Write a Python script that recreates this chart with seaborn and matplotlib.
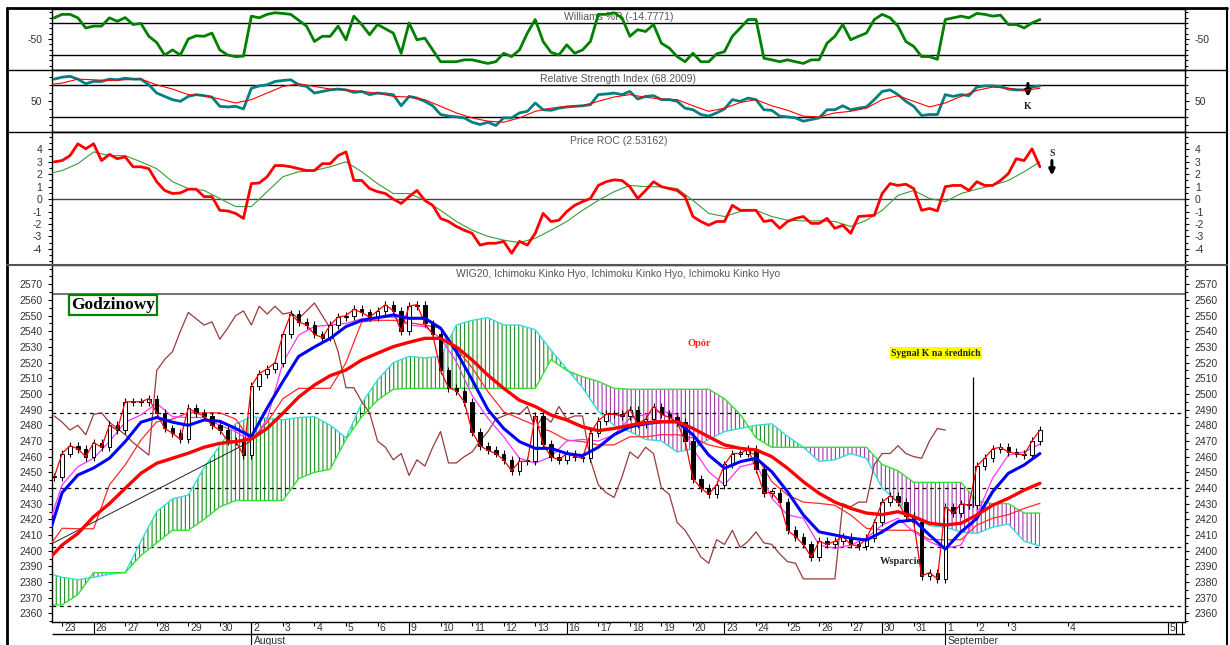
import numpy as np
import matplotlib
matplotlib.use("Agg")
import matplotlib.pyplot as plt
from matplotlib.lines import Line2D
import seaborn as sns

sns.set_style("white")
plt.rcParams['font.family'] = ['Liberation Sans', 'DejaVu Sans']
plt.rcParams['hatch.linewidth'] = 0.8
plt.rcParams['axes.unicode_minus'] = False

# x is in trading days, 0 = 23 July (hourly chart, read every 1/4 and 1/2 day)
x_q = np.arange(-0.25, 31.001, 0.25)
x_h = np.arange(-0.5, 31.001, 0.5)

day_labels = ["23", "26", "27", "28", "29", "30", "2", "3", "4", "5", "6", "9", "10",
              "11", "12", "13", "16", "17", "18", "19", "20", "23", "24", "25", "26",
              "27", "30", "31", "1", "2", "3", "4", "5"]
day_pos = list(range(31)) + [31.9, 35.05]
week_starts = [1, 6, 11, 16, 21, 26, 35.05, 35.3, 35.5]
months = [(6, "August"), (28, "September")]

# WIG20 closes
close = [2447,
         2462, 2467, 2465, 2460, 2469, 2466, 2480, 2477,
         2495, 2495, 2495, 2497, 2488, 2478, 2475, 2471,
         2491, 2488, 2486, 2480, 2477, 2470, 2470, 2461,
         2505, 2513, 2516, 2520, 2538, 2551, 2546, 2544,
         2538, 2536, 2544, 2549, 2550, 2554, 2552, 2549,
         2553, 2557, 2553, 2540, 2556, 2557, 2545, 2538,
         2515, 2504, 2502, 2495, 2476, 2467, 2464, 2462,
         2458, 2451, 2457, 2457, 2486, 2468, 2460, 2458,
         2462, 2460, 2459, 2475, 2483, 2487, 2487, 2486,
         2490, 2481, 2484, 2492, 2487, 2485, 2482, 2470,
         2446, 2440, 2436, 2442, 2455, 2462, 2462, 2465,
         2452, 2437, 2437, 2431, 2413, 2409, 2404, 2396,
         2406, 2404, 2406, 2409, 2404, 2403, 2408, 2418,
         2431, 2435, 2431, 2422, 2418, 2384, 2386, 2382,
         2428, 2424, 2430, 2429, 2454, 2459, 2465, 2466,
         2463, 2462, 2461, 2470,
         2477]

# lagging span (brown), ends 28 days in
chikou = [2486,
          2482, 2477, 2480, 2474, 2487, 2488, 2482, 2478,
          2474, 2469, 2465, 2461, 2515, 2522, 2527, 2540,
          2552, 2548, 2544, 2546, 2535, 2542, 2550, 2553,
          2544, 2556, 2551, 2556, 2551, 2552, 2548, 2553,
          2558, 2550, 2542, 2527, 2504, 2504, 2495, 2488,
          2470, 2466, 2458, 2462, 2448, 2458, 2454, 2466,
          2476, 2456, 2456, 2460, 2463, 2470, 2476, 2484,
          2486, 2488, 2487, 2492, 2478, 2486, 2482, 2492,
          2484, 2486, 2486, 2458, 2442, 2437, 2434, 2447,
          2463, 2459, 2466, 2462, 2440, 2436, 2418, 2413,
          2405, 2396, 2392, 2407, 2404, 2413, 2402, 2406,
          2412, 2405, 2404, 2398, 2393, 2392, 2382, 2382,
          2382, 2382, 2382, 2430, 2428, 2431, 2431, 2455,
          2462, 2462, 2467, 2462, 2460, 2459, 2470, 2478,
          2477]

ma_blue = [2405, 2437, 2448.3, 2452.8, 2459, 2469.6, 2482, 2485, 2482, 2480, 2483.4,
           2482.6, 2478, 2472.8, 2491, 2508, 2524, 2530, 2535.5, 2543, 2547, 2548.7,
           2550.4, 2548.3, 2548.3, 2542, 2527, 2509, 2490, 2478, 2469.6, 2465.3, 2465.3,
           2462, 2460.6, 2466, 2474, 2479, 2481, 2482.3, 2482.3, 2474, 2461, 2452.6,
           2456.8, 2459, 2450.4, 2437.6, 2422.8, 2412, 2410, 2408, 2406.8, 2412, 2418.5,
           2419.6, 2410, 2401, 2412, 2420.6, 2437.6, 2449.4, 2454.7, 2462]

ma_red = [2393, 2403.6, 2411, 2421.7, 2430, 2439.8, 2449.4, 2455.8, 2459, 2462.2, 2466,
          2468.5, 2469.6, 2471.3, 2478, 2487.7, 2498, 2505.7, 2511.7, 2515.3, 2521.7, 2526,
          2530.2, 2533, 2535.5, 2535.5, 2530, 2521.7, 2512, 2503.6, 2496, 2492, 2486.6,
          2483.4, 2479, 2476.6, 2478, 2480, 2481.7, 2482.3, 2482.3, 2478, 2472.7, 2467.5,
          2465.3, 2464.3, 2460, 2452.6, 2444, 2436.6, 2431, 2427, 2424, 2423, 2424.9,
          2421.7, 2417.5, 2416.4, 2417.5, 2422.8, 2429, 2433.4, 2438.7, 2443]

tenkan = [2412, 2442, 2453.6, 2459, 2469.6, 2482, 2486.6, 2494, 2485.5, 2485, 2485,
          2480, 2476, 2469.6, 2484, 2520, 2537.6, 2543, 2544, 2545, 2548, 2549, 2549,
          2544, 2543, 2535.5, 2520.6, 2499, 2484.5, 2472.7, 2459, 2455.8, 2460, 2470,
          2471, 2470, 2474, 2484.5, 2487, 2489, 2487, 2465, 2450.4, 2442, 2453.6, 2456,
          2433.4, 2422.8, 2420.7, 2403.6, 2401.5, 2403.6, 2408, 2416.4, 2420.7, 2412,
          2405.7, 2401.5, 2403.6, 2422.8, 2446.2, 2461, 2463, 2468]

kijun = [2400, 2414.3, 2414, 2414, 2442, 2454.7, 2470.6, 2482.3, 2484, 2488, 2488,
         2488, 2484, 2470, 2482, 2497, 2503.6, 2503.6, 2503.6, 2520, 2546, 2547, 2547,
         2545.5, 2544, 2542, 2529, 2516.7, 2501.5, 2488.7, 2484.3, 2480, 2476, 2470.6,
         2469.6, 2467.5, 2467.5, 2472.7, 2472.7, 2474, 2474, 2472, 2467.5, 2465.3,
         2465.3, 2461, 2444, 2435.5, 2431, 2430.2, 2429, 2422.8, 2414.3, 2413.2, 2413,
         2413, 2407, 2407, 2407, 2416.4, 2420.7, 2423, 2427, 2430.2]

span_a = [2386, 2383, 2381.5, 2383, 2385, 2386, 2406, 2425, 2433, 2435.5, 2453, 2467,
          2481, 2485.5, 2484.5, 2483.5, 2485, 2485.5, 2480, 2472, 2494, 2509, 2520, 2524,
          2523, 2524, 2544, 2547, 2548.7, 2544, 2544, 2541, 2528, 2516, 2504, 2489, 2480,
          2476, 2471, 2470, 2463, 2465, 2471, 2476, 2478, 2480, 2481, 2473, 2466, 2457,
          2458, 2462, 2459, 2440, 2431, 2421, 2416, 2415, 2412, 2411, 2415, 2417, 2406,
          2403]

span_b = [2365.4, 2365.4, 2372, 2386, 2386, 2386, 2397, 2405, 2413, 2413, 2420, 2428,
          2432, 2432, 2432, 2432, 2446, 2450, 2452, 2471, 2485.5, 2496, 2503, 2503.6,
          2503.6, 2503.6, 2503.6, 2503.6, 2503.6, 2503.6, 2503.6, 2503.6, 2522, 2515,
          2511, 2508, 2503.6, 2503, 2503, 2503, 2503, 2503, 2503, 2497, 2487, 2472, 2466,
          2466, 2466, 2466, 2466, 2466, 2466, 2455, 2451, 2443.6, 2443.6, 2443.6, 2443.6,
          2432, 2430, 2430, 2424, 2424]

trend_x = [-0.32, 5.95]
trend_y = [2404.5, 2469.5]
levels = [2488, 2440, 2402.5, 2365]

williams = [-10.5,
            -4, -4, -10.5, -29.5, -26, -26, -10.5, -17,
            -10, -23, -21, -45, -56.6, -80, -70.5, -80,
            -50, -44, -45, -39, -70.5, -80, -83, -82,
            -7.4, -10.5, -4, -1, -2.3, -4, -15, -26,
            -54.7, -45, -45, -26, -51.5, -7.4, -23, -42,
            -23, -31, -39, -76.7, -20, -51.5, -48.5, -70.5,
            -92.5, -92.5, -92.5, -89, -89, -92.5, -95.7, -92.5,
            -76.7, -83, -70.5, -39, -13.7, -54.7, -75, -80,
            -61, -76.7, -70.5, -54.7, -4, -4, -1, -10.5,
            -45, -32.6, -36, -23, -58, -67, -83, -92.5,
            -76.7, -92.5, -92.5, -78, -73.6, -45, -29.5, -13.7,
            -13.7, -86, -89, -92.5, -89, -92.5, -95.7, -89,
            -89, -58, -45, -23, -51.5, -45, -39, -13.7,
            -4, -10.5, -26, -54.7, -64, -83, -83, -88,
            -13.7, -10.5, -7.4, -10.5, -2.3, -4, -7.4, -5.4,
            -23, -23, -29.5, -20,
            -13.7]

rsi = [77.5,
       80, 81, 77.5, 71.7, 74.6, 74.6, 77.5, 76.7,
       78.7, 77.5, 77.5, 70.4, 60, 55.8, 51.7, 49.6,
       55.8, 58, 56.7, 55, 43.3, 42.5, 43.3, 40,
       66, 69, 70.4, 74.6, 75.8, 76.7, 70.4, 68.3,
       60, 62, 64, 65, 64, 60.8, 62, 58,
       60, 59, 58, 44, 55.8, 53.7, 49.6, 44,
       33, 31, 30, 28.7, 23.3, 20.4, 23.3, 19.2,
       28.7, 28.7, 35, 37, 47.5, 39, 38.3, 41,
       42.5, 43.3, 44, 45.4, 58, 58.8, 60, 58,
       62, 52.5, 55.8, 56.7, 51.7, 51.7, 49.6, 41,
       39, 33, 31, 35, 40, 51.7, 49.6, 53.7,
       51.7, 39, 38.3, 31, 30, 28.7, 24.6, 26.7,
       28.7, 39, 39, 44, 39, 41, 42.5, 51.7,
       62, 64, 58, 49.6, 43.3, 31.7, 33, 33,
       58, 55.8, 58, 56.7, 67.5, 69, 69, 68.3,
       65, 64, 64, 67.5,
       69]

rsi_ma = [70.4, 72.5, 77.5, 76.7, 75.8, 76.7, 77.5, 70.4, 65, 58, 56.7, 52.5, 47.5, 51.7,
          60, 68.3, 71.7, 68.3, 65, 64, 62, 60, 55.8, 55, 51.7, 43.3, 35, 28.7, 24.6, 23.3,
          28.7, 37, 41, 43.3, 44, 49.6, 55, 58, 54.6, 52.5, 51.7, 44, 37, 41, 48, 51.7, 44,
          38.3, 31, 30, 35, 37, 41, 51.7, 56.7, 49.6, 42.5, 47.5, 55.8, 63.3, 67.5, 66,
          63.3, 66]

roc = [3.0,
       3.1, 3.5, 4.45, 4.05, 4.45, 3.1, 3.6, 3.25,
       3.4, 2.6, 2.6, 2.45, 1.4, 0.7, 0.45, 0.5,
       0.8, 0.8, 0.2, 0.2, -0.9, -0.95, -1.15, -1.55,
       1.25, 1.3, 1.8, 2.7, 2.7, 2.6, 2.45, 2.3,
       2.3, 2.85, 2.85, 3.5, 3.8, 1.5, 1.5, 0.85,
       0.6, 0.45, 0, -0.35, 0.2, 0.7, -0.1, -0.5,
       -1.55, -1.8, -2.2, -2.5, -2.75, -3.7, -3.55, -3.55,
       -3.4, -4.35, -3.4, -3.7, -2.75, -1.15, -1.8, -1.7,
       -1.0, -0.5, -0.2, 0.05, 1.1, 1.4, 1.55, 1.5,
       1.0, 0.05, 0.7, 1.4, 1.0, 0.85, 0.7, 0.2,
       -1.4, -1.8, -2.1, -1.8, -1.8, -0.5, -0.9, -0.9,
       -0.9, -1.8, -1.7, -2.35, -1.8, -1.55, -1.4, -1.95,
       -1.95, -1.55, -2.35, -2.1, -2.75, -1.4, -1.35, -1.3,
       0.45, 1.25, 1.1, 1.2, 0.85, -0.9, -0.75, -0.95,
       1.0, 1.1, 1.1, 0.7, 1.4, 1.1, 1.1, 1.5,
       2.05, 3.25, 3.1, 4.05,
       2.6]

roc_ma = [2.0, 2.3, 2.85, 3.8, 3.5, 3.5, 3.0, 2.45, 1.4, 0.85, 0.7, 0.05, -0.6, -0.6, 0.6,
          1.8, 2.2, 2.3, 2.6, 3.0, 2.2, 1.25, 0.45, 0.45, -0.1, -0.9, -1.8, -2.5, -3.0,
          -3.3, -3.5, -3.15, -2.5, -1.8, -0.9, -0.1, 0.6, 1.1, 1.0, 1.0, 0.85, -0.1, -1.15,
          -1.4, -1.0, -0.9, -1.4, -1.7, -1.75, -1.75, -1.8, -2.2, -1.7, -0.9, 0.3, 0.7,
          0.05, -0.2, 0.45, 0.8, 1.1, 1.5, 2.2, 3.0]

WICK = 2.5
XLIM = (-0.32, 35.6)
W_PX, H_PX = 1230, 645
TICK_C = '#333333'


def box(x0, y0, x1, y1):
    return [x0 / W_PX, 1 - y1 / H_PX, (x1 - x0) / W_PX, (y1 - y0) / H_PX]


def line(ax, x, y, color, lw, z=2):
    sns.lineplot(x=np.asarray(x), y=np.asarray(y, dtype=float), ax=ax, color=color,
                 linewidth=lw, zorder=z, estimator=None, sort=False)


def fig_line(x0, y0, x1, y1, **kw):
    fig.add_artist(Line2D([x0 / W_PX, x1 / W_PX], [1 - y0 / H_PX, 1 - y1 / H_PX],
                          transform=fig.transFigure, **kw))


def down_arrow(ax, x, y_from, y_to):
    ax.annotate('', xy=(x, y_to), xytext=(x, y_from),
                arrowprops=dict(arrowstyle='-|>', color='black', lw=2.2,
                                mutation_scale=8, shrinkA=0, shrinkB=0))


def style_axis(ax, ylim, major, minor):
    ax.set_xlim(*XLIM)
    ax.set_ylim(*ylim)
    ax.set_yticks(major)
    ax.set_yticks(minor, minor=True)
    ax.tick_params(axis='y', which='both', left=True, right=True, labelleft=True,
                   labelright=True, direction='out', colors='black', labelcolor=TICK_C,
                   labelsize=7.5, pad=4)
    ax.tick_params(axis='y', which='major', length=3, width=0.8)
    ax.tick_params(axis='y', which='minor', length=2, width=0.8)
    ax.tick_params(axis='x', which='both', bottom=False, labelbottom=False)
    for s in ax.spines.values():
        s.set_color('black')
        s.set_linewidth(1)
    ax.set_xlabel('')
    ax.set_ylabel('')


fig = plt.figure(figsize=(12.3, 6.45), dpi=100)
ax_w = fig.add_axes(box(52, 9, 1185, 70))
ax_r = fig.add_axes(box(52, 70, 1185, 132))
ax_c = fig.add_axes(box(52, 132, 1185, 265))
ax_m = fig.add_axes(box(52, 265, 1185, 622))
ax_d = fig.add_axes(box(52, 622, 1185, 645))

# ---- Williams %R ----
for lv in (-20, -80):
    ax_w.axhline(lv, color='black', lw=1, zorder=1)
line(ax_w, x_q, williams, '#008000', 2.0, 3)
ax_w.text(0.5, 0.87, 'Williams %R (-14.7771)', transform=ax_w.transAxes, ha='center',
          va='center', fontsize=7.5, color='#555555', zorder=1)
style_axis(ax_w, (-108, 6), [-50], np.arange(-100, 1, 10))

# ---- RSI ----
for lv in (70, 30):
    ax_r.axhline(lv, color='black', lw=1, zorder=1)
line(ax_r, x_q, rsi, '#008080', 2.0, 3)
line(ax_r, x_h, rsi_ma, '#ff0000', 0.8, 4)
ax_r.text(0.5, 0.855, 'Relative Strength Index (68.2009)', transform=ax_r.transAxes,
          ha='center', va='center', fontsize=7.5, color='#555555', zorder=1)
down_arrow(ax_r, 30.62, 72, 55)
ax_r.text(30.62, 43, 'K', ha='center', va='center', fontsize=7, fontweight='bold',
          family='Liberation Serif', color='#222222')
style_axis(ax_r, (11, 89), [50], np.arange(20, 81, 10))

# ---- Price ROC ----
ax_c.axhline(0, color='#444444', lw=1, zorder=1)
line(ax_c, x_h, roc_ma, '#3a9a3a', 0.8, 3)
line(ax_c, x_q, roc, '#ff0000', 2.0, 4)
ax_c.text(0.5, 0.93, 'Price ROC (2.53162)', transform=ax_c.transAxes, ha='center',
          va='center', fontsize=7.5, color='#555555', zorder=1)
ax_c.text(31.38, 3.7, 'S', ha='center', va='center', fontsize=7, fontweight='bold',
          family='Liberation Serif', color='#222222')
down_arrow(ax_c, 31.38, 3.1, 1.9)
style_axis(ax_c, (-5.3, 5.4), np.arange(-4, 5, 1), np.arange(-5, 5.01, 0.5))

# ---- main chart: WIG20 + Ichimoku ----
a = np.array(span_a)
b = np.array(span_b)
ax_m.fill_between(x_h, a, b, where=a >= b, interpolate=True, facecolor='none',
                  edgecolor='#1f8f1f', hatch='||||', linewidth=0, zorder=1)
ax_m.fill_between(x_h, a, b, where=a < b, interpolate=True, facecolor='none',
                  edgecolor='#a03aa8', hatch='||||', linewidth=0, zorder=1)
line(ax_m, x_h, span_a, '#33dddd', 1.0, 2)
line(ax_m, x_h, span_b, '#33e033', 1.0, 2)

ax_m.axhline(2564, color='#777777', lw=1.5, zorder=1)
for lv in levels:
    ax_m.axhline(lv, color='black', lw=0.9, ls=(0, (3, 3)), zorder=1)

line(ax_m, x_q[:len(chikou)], chikou, '#9a3a3a', 0.9, 3)
line(ax_m, x_h, kijun, '#ff2a2a', 0.9, 3)
line(ax_m, x_h, tenkan, '#ff33ff', 0.9, 3)
line(ax_m, trend_x, trend_y, '#222222', 0.7, 3)

c = np.array(close, dtype=float)
o = np.concatenate([[c[0]], c[:-1]])
hi = np.maximum(o, c) + WICK
lo = np.minimum(o, c) - WICK
ax_m.vlines(x_q, lo, hi, color='black', lw=0.8, zorder=4)
body_h = np.maximum(np.abs(c - o), 0.8)
up = c >= o
ax_m.bar(x_q[up], body_h[up], bottom=np.minimum(o, c)[up], width=0.11, color='white',
         edgecolor='black', linewidth=0.7, zorder=5)
ax_m.bar(x_q[~up], body_h[~up], bottom=np.minimum(o, c)[~up], width=0.11, color='black',
         edgecolor='black', linewidth=0.7, zorder=5)
line(ax_m, x_q, close, '#ff0000', 0.9, 6)

line(ax_m, x_h, ma_blue, '#0000ff', 2.2, 7)
line(ax_m, x_h, ma_red, '#ff0000', 2.4, 7)

ax_m.vlines(28.87, 2428, 2511, color='black', lw=0.9, zorder=8)

ax_m.text(0.5, 0.975, 'WIG20, Ichimoku Kinko Hyo, Ichimoku Kinko Hyo, Ichimoku Kinko Hyo',
          transform=ax_m.transAxes, ha='center', va='center', fontsize=7.5, color='#555555')
serif = ['Liberation Serif', 'DejaVu Serif']
ax_m.text(1.62, 2557, 'Godzinowy', ha='center', va='center', fontsize=12.5,
          fontweight='bold', family=serif, color='black', zorder=9,
          bbox=dict(boxstyle='square,pad=0.12', fc='white', ec='#008000', lw=1.6))
ax_m.text(20.2, 2532, 'Opór', ha='center', va='center', fontsize=7.5, fontweight='bold',
          family=serif, color='#ff2020', zorder=9)
ax_m.text(27.7, 2526, 'Sygnał K na średnich', ha='center', va='center', fontsize=7,
          fontweight='bold', family=serif, color='#222222', zorder=9,
          bbox=dict(boxstyle='square,pad=0.15', fc='#ffff00', ec='none'))
ax_m.text(26.6, 2393, 'Wsparcie', ha='center', va='center', fontsize=7.5,
          fontweight='bold', family=serif, color='#222222', zorder=9)
style_axis(ax_m, (2354.5, 2582.3), np.arange(2360, 2571, 10), np.arange(2355, 2581, 5))

# ---- date strip ----
ax_d.set_xlim(*XLIM)
ax_d.set_ylim(0, 23)
ax_d.axis('off')
ax_d.hlines(11.5, XLIM[0], XLIM[1], color='black', lw=1)
ax_d.vlines(day_pos, 19.5, 23, color='black', lw=0.8)
ax_d.vlines(week_starts, 11.5, 23, color='black', lw=0.8)
ax_d.vlines([m[0] for m in months], 0, 23, color='black', lw=0.8)
for p, lab in zip(day_pos, day_labels):
    ax_d.text(p + 0.06, 17, lab, ha='left', va='center', fontsize=7.5, color=TICK_C)
for p, lab in months:
    ax_d.text(p + 0.08, 4.5, lab, ha='left', va='center', fontsize=7.5, color=TICK_C)

# ---- outer frame and panel separators ----
fig_line(7, 8, 7, 645, color='black', lw=2)
fig_line(7, 8, 1227, 8, color='black', lw=2)
fig_line(1227, 8, 1227, 645, color='black', lw=1.5)
fig_line(7, 70, 1227, 70, color='black', lw=1)
fig_line(7, 132, 1227, 132, color='black', lw=1)
fig_line(7, 265, 1227, 265, color='#555555', lw=1.5)

fig.savefig('out.png', dpi=100, facecolor='white')
